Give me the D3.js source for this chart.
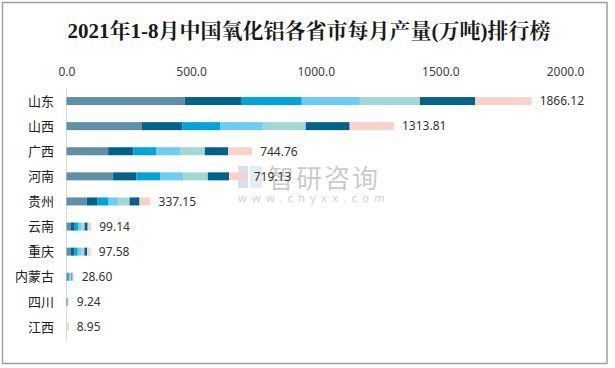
<!DOCTYPE html>
<html>
<head>
<meta charset="utf-8">
<script src="https://cdn.jsdelivr.net/npm/d3@7"></script>
<style>
html,body{margin:0;padding:0;background:#fff;}
svg{display:block;}
</style>
</head>
<body>
<svg id="chart" width="615" height="368"></svg>
<script>
const title = "2021年1-8月中国氧化铝各省市每月产量(万吨)排行榜";
const provinces = ["山东","山西","广西","河南","贵州","云南","重庆","内蒙古","四川","江西"];
const months = ["1-2月","3月","4月","5月","6月","7月","8月"];
const totals = [1866.12,1313.81,744.76,719.13,337.15,99.14,97.58,28.60,9.24,8.95];
// monthly values per province, in order of months
const m12 = [474,303,167,187,81,18,18,4,0,0];
const m3  = [229,161,101,93,44,15,14,4,0,0];
const m4  = [241,152,93,97,44,13,13,4,3,0];
const m5  = [233,172,97,93,40,13,13,4,3.5,0];
const m6  = [241,172,97,97,44,14,14,4,0,0];
const m7  = [222,176,93,85,40,12,11,4,0,0];
const m8  = [226.12,177.81,96.76,67.13,44.15,14.14,14.58,4.6,2.74,8.95];
const tickValues = [0,500,1000,1500,2000];
const colors = ["#6090a8","#00638a","#00a4dd","#6dcdf4","#a3d9d4","#00648a","#f9d2ca"];

const series = [m12,m3,m4,m5,m6,m7,m8];
const rows = provinces.map((p,i)=>{
  const o = {name:p, total: totals[i]};
  months.forEach((m,j)=>{ o[m] = series[j][i]; });
  return o;
});

const svg = d3.select("#chart");
// border
svg.append("rect").attr("x",2.5).attr("y",2.5).attr("width",604.5).attr("height",361)
  .attr("fill","#fff").attr("stroke","#a0a0a0").attr("stroke-width",1.5);

svg.append("text").attr("x",309).attr("y",38).attr("text-anchor","middle")
  .attr("font-family","'Liberation Serif','Noto Serif CJK SC','Noto Sans CJK SC',serif")
  .attr("font-size",21).attr("font-weight","bold").attr("fill","#1a1a1a").text(title);

const x = d3.scaleLinear().domain([0,2000]).range([66.5,565]);
const y = d3.scalePoint().domain(provinces).range([88.5,339.5]).padding(0.5);
const barH = 8;

// top axis labels
const xAxis = d3.axisTop(x).tickValues(tickValues).tickFormat(d3.format(".1f")).tickSize(0).tickPadding(0);
const gx = svg.append("g").attr("transform","translate(0,76)").call(xAxis);
gx.select(".domain").remove();
gx.selectAll("text").attr("font-family","'Noto Sans','Open Sans',sans-serif").attr("font-size",12).attr("fill","#404040");

// vertical axis line
svg.append("line").attr("x1",66.5).attr("x2",66.5).attr("y1",88).attr("y2",341)
  .attr("stroke","#d9d9d9").attr("stroke-width",1);

// category labels
svg.append("g").selectAll("text").data(provinces).join("text")
  .attr("x",54).attr("y",d=>y(d)).attr("dy","0.36em").attr("text-anchor","end")
  .attr("font-family","'Noto Sans CJK SC',sans-serif").attr("font-size",13).attr("fill","#222")
  .text(d=>d);

// watermark
const wm = svg.append("g").attr("opacity",0.3);
wm.append("rect").attr("x",238).attr("y",166).attr("width",10).attr("height",22).attr("fill","#7fa3c8");
wm.append("rect").attr("x",250).attr("y",166).attr("width",12).attr("height",22).attr("fill","#a9c6e2");
wm.append("text").attr("x",268).attr("y",188).attr("font-family","'Noto Sans CJK SC',sans-serif")
  .attr("font-size",26).attr("fill","#555").attr("letter-spacing",2).text("智研咨询");
wm.append("text").attr("x",238).attr("y",202).attr("font-family","'Noto Sans',sans-serif")
  .attr("font-size",11).attr("fill","#666").attr("letter-spacing",5.3).text("www.chyxx.com");

// stacked bars
const stack = d3.stack().keys(months)(rows);
svg.append("g").selectAll("g").data(stack).join("g")
  .attr("fill",(d,i)=>colors[i])
  .selectAll("rect").data(d=>d).join("rect")
  .attr("x",d=>x(d[0])).attr("width",d=>Math.max(0,x(d[1])-x(d[0])))
  .attr("y",d=>y(d.data.name)-barH/2).attr("height",barH);

// total labels
svg.append("g").selectAll("text").data(rows).join("text")
  .attr("x",d=>x(d.total)+8).attr("y",d=>y(d.name)).attr("dy","0.36em")
  .attr("font-family","'Noto Sans','Open Sans',sans-serif").attr("font-size",12).attr("fill","#333")
  .text(d=>d.total.toFixed(2));
</script>
</body>
</html>
